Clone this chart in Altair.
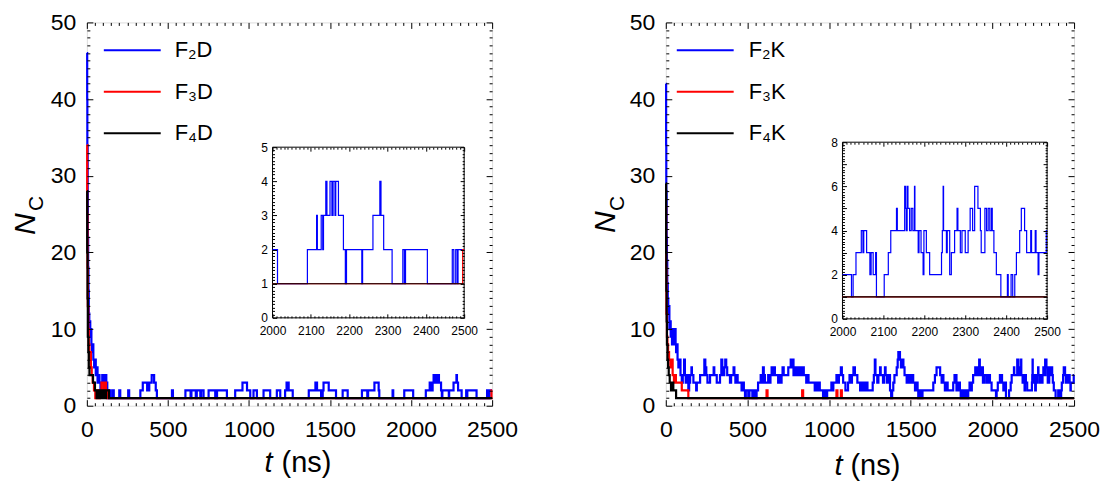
import altair as alt
import pandas as pd
import numpy as np

FONT = "Liberation Sans"

# ---------------- data: (t in ns, N_C) change points of step series ----------------
F2D = [(0, 46), (2, 40), (3, 34), (5, 28), (6, 22), (8, 18), (10, 15), (12, 12), (15, 10), (18, 11),
       (21, 9), (25, 10), (28, 8), (32, 7), (36, 8), (40, 6), (45, 5), (50, 6), (55, 4), (60, 5),
       (66, 3), (72, 4), (78, 3), (84, 2), (90, 3), (95, 4), (105, 3), (112, 4), (120, 3), (126, 2),
       (132, 1), (140, 2), (146, 1), (160, 2), (166, 1), (200, 2), (206, 1), (255, 2), (261, 1),
       (330, 2), (345, 3), (372, 2), (385, 3), (400, 4), (415, 3), (425, 2), (432, 1), (525, 2),
       (531, 1), (608, 2), (640, 1), (645, 2), (672, 1), (678, 2), (700, 1), (705, 2), (720, 1),
       (751, 2), (792, 1), (803, 2), (864, 1), (915, 2), (960, 3), (988, 2), (1008, 1), (1028, 2),
       (1049, 1), (1090, 2), (1131, 1), (1172, 2), (1193, 1), (1223, 2), (1232, 3), (1245, 2),
       (1270, 1), (1369, 2), (1410, 3), (1420, 2), (1445, 1), (1455, 2), (1460, 3), (1492, 2),
       (1537, 1), (1578, 2), (1609, 1), (1697, 2), (1730, 1), (1735, 2), (1774, 3), (1800, 2),
       (1804, 1), (1886, 2), (1890, 1), (1958, 2), (2013, 1), (2091, 2), (2115, 3), (2117, 2),
       (2127, 3), (2131, 2), (2133, 3), (2139, 4), (2142, 3), (2150, 4), (2155, 3), (2158, 4),
       (2163, 3), (2165, 4), (2172, 3), (2185, 2), (2190, 1), (2193, 2), (2233, 1), (2235, 2),
       (2262, 3), (2280, 4), (2283, 3), (2290, 2), (2312, 1), (2340, 2), (2344, 1), (2347, 2),
       (2404, 1), (2469, 2), (2473, 1), (2478, 2), (2482, 1), (2484, 2), (2500, 2)]
F3D = [(0, 34), (2, 25), (4, 18), (6, 13), (9, 10), (12, 8), (16, 6), (20, 7), (25, 5), (30, 4),
       (36, 3), (44, 2), (52, 1), (62, 2), (70, 1), (80, 2), (90, 3), (104, 2), (112, 3), (118, 2),
       (124, 1), (2496, 2), (2500, 2)]
F4D = [(0, 28), (2, 20), (4, 14), (6, 9), (9, 7), (12, 5), (16, 4), (38, 3), (50, 2), (60, 1),
       (66, 2), (76, 1), (85, 2), (95, 1), (100, 2), (110, 1), (118, 2), (136, 1), (2500, 1)]

F2K = [(0, 42), (2, 34), (3, 28), (5, 22), (7, 19), (9, 16), (12, 14), (15, 12), (19, 13), (22, 10),
       (26, 11), (30, 9), (34, 10), (38, 8), (42, 10), (47, 9), (52, 8), (56, 10), (60, 8), (63, 7),
       (68, 8), (72, 6), (77, 5), (84, 6), (90, 4), (98, 3), (104, 4), (112, 6), (117, 4), (122, 3),
       (130, 4), (138, 2), (143, 3), (149, 4), (157, 5), (160, 4), (169, 3), (186, 2), (190, 3),
       (210, 4), (236, 6), (242, 5), (248, 4), (255, 3), (271, 4), (293, 5), (297, 4), (312, 3),
       (332, 4), (340, 6), (346, 5), (352, 4), (358, 5), (364, 6), (370, 5), (376, 4), (393, 3),
       (400, 4), (415, 5), (420, 4), (426, 3), (434, 4), (440, 3), (464, 2), (470, 3), (478, 2),
       (485, 1), (490, 2), (505, 1), (512, 2), (530, 1), (535, 2), (548, 1), (556, 2), (565, 3),
       (581, 4), (590, 3), (595, 5), (600, 4), (607, 3), (627, 4), (635, 3), (641, 4), (648, 5),
       (655, 4), (662, 5), (668, 4), (688, 3), (695, 4), (702, 3), (709, 4), (715, 5), (722, 4),
       (750, 5), (765, 6), (772, 5), (778, 6), (782, 4), (795, 5), (805, 4), (818, 5), (826, 4),
       (835, 5), (845, 4), (860, 3), (868, 4), (874, 3), (912, 2), (918, 3), (925, 2), (935, 3),
       (943, 2), (963, 1), (970, 2), (978, 1), (988, 2), (1014, 3), (1020, 2), (1026, 3), (1045, 4),
       (1052, 3), (1060, 4), (1072, 5), (1078, 4), (1086, 3), (1100, 2), (1116, 3), (1125, 4),
       (1132, 3), (1140, 4), (1149, 5), (1158, 4), (1173, 3), (1190, 2), (1198, 3), (1210, 2),
       (1222, 3), (1235, 2), (1267, 3), (1274, 4), (1280, 6), (1284, 4), (1295, 3), (1302, 4),
       (1312, 5), (1316, 4), (1330, 3), (1336, 4), (1342, 5), (1346, 4), (1353, 3), (1362, 4),
       (1373, 2), (1380, 1), (1386, 2), (1393, 3), (1400, 4), (1414, 5), (1420, 6), (1424, 7),
       (1434, 6), (1440, 5), (1450, 6), (1455, 5), (1462, 4), (1475, 3), (1485, 4), (1495, 3),
       (1505, 4), (1515, 3), (1526, 2), (1536, 3), (1542, 2), (1546, 1), (1556, 2), (1568, 1),
       (1572, 2), (1638, 3), (1648, 4), (1658, 5), (1680, 4), (1689, 3), (1695, 4), (1700, 3),
       (1709, 2), (1718, 3), (1726, 2), (1760, 3), (1768, 4), (1780, 2), (1790, 3), (1801, 2),
       (1806, 1), (1815, 2), (1822, 1), (1835, 2), (1845, 1), (1852, 2), (1860, 3), (1868, 2),
       (1874, 3), (1882, 4), (1895, 5), (1900, 4), (1910, 5), (1919, 6), (1923, 4), (1935, 5),
       (1942, 3), (1950, 4), (1964, 3), (1975, 4), (1985, 3), (1995, 2), (2022, 1), (2026, 2),
       (2033, 3), (2046, 4), (2050, 3), (2052, 4), (2059, 3), (2067, 2), (2070, 3), (2075, 2),
       (2081, 3), (2083, 1), (2102, 2), (2112, 3), (2118, 4), (2132, 5), (2134, 4), (2152, 6),
       (2154, 5), (2156, 4), (2158, 6), (2160, 5), (2164, 4), (2168, 5), (2172, 4), (2176, 6),
       (2177, 4), (2185, 3), (2187, 4), (2192, 3), (2197, 2), (2199, 4), (2205, 3), (2213, 2),
       (2242, 3), (2244, 4), (2246, 6), (2247, 4), (2254, 3), (2256, 4), (2262, 2), (2266, 3),
       (2274, 4), (2280, 5), (2282, 4), (2288, 3), (2292, 4), (2300, 3), (2307, 4), (2312, 5),
       (2318, 4), (2323, 6), (2331, 5), (2337, 4), (2339, 3), (2348, 5), (2352, 4), (2356, 5),
       (2360, 4), (2364, 5), (2366, 4), (2370, 3), (2376, 2), (2387, 1), (2403, 2), (2405, 1),
       (2412, 2), (2416, 1), (2421, 2), (2425, 3), (2433, 4), (2437, 5), (2445, 4), (2450, 3),
       (2460, 4), (2462, 3), (2471, 4), (2473, 3), (2478, 2), (2480, 3), (2498, 4), (2500, 4)]
F3K = [(0, 26), (2, 18), (4, 12), (7, 9), (10, 8), (14, 7), (20, 6), (28, 5), (36, 6), (42, 4),
       (50, 3), (56, 4), (62, 3), (98, 2), (138, 1), (617, 2), (623, 1), (835, 2), (841, 1),
       (1045, 2), (1051, 1), (1072, 2), (1078, 1), (2500, 1)]
F4K = [(0, 29), (2, 20), (3, 15), (5, 11), (7, 8), (10, 6), (14, 5), (18, 4), (24, 3), (32, 2),
       (40, 3), (46, 2), (63, 1), (2500, 1)]

LEFT_NAMES = ["F\u2082D", "F\u2083D", "F\u2084D"]
RIGHT_NAMES = ["F\u2082K", "F\u2083K", "F\u2084K"]
COLORS = ["#0000ff", "#ff0000", "#000000"]

MAIN_X_LABELS = [0, 500, 1000, 1500, 2000, 2500]
MAIN_Y_LABELS = [0, 10, 20, 30, 40, 50]
INSET_X_LABELS = [2000, 2100, 2200, 2300, 2400, 2500]
LEFT_INSET_Y_LABELS = [0, 1, 2, 3, 4, 5]
RIGHT_INSET_Y_LABELS = [0, 2, 4, 6, 8]

MAIN_X_TICKS = list(range(0, 2501, 50))
MAIN_Y_TICKS = list(range(0, 51, 1))
INSET_X_TICKS = list(range(2000, 2501, 10))


def long_df(series, names):
    rows = []
    for k, (pts, name) in enumerate(zip(series, names)):
        for t, v in pts:
            rows.append({"t": t, "v": v, "s": name, "k": k})
    return pd.DataFrame(rows)


def inset_df(series, names, t0=2000):
    rows = []
    for k, (pts, name) in enumerate(zip(series, names)):
        start = [v for t, v in pts if t <= t0][-1]
        rows.append({"t": t0, "v": start, "s": name, "k": k})
        for t, v in pts:
            if t > t0:
                rows.append({"t": t, "v": v, "s": name, "k": k})
    return pd.DataFrame(rows)


def tick_axis(orient, offset, values, cond, major, minor):
    return alt.Axis(orient=orient, offset=offset, values=values, labels=False, domain=False,
                    grid=False, ticks=True, tickColor="black", tickWidth=1,
                    tickSize={"condition": {"test": cond, "value": major}, "value": minor},
                    title=None, zindex=2)


def label_axis(orient, offset, values, size, pad):
    return alt.Axis(orient=orient, offset=offset, values=values, ticks=False, tickSize=0,
                    domain=False, grid=False, labelFlush=False, labelOverlap=False,
                    labelFont=FONT, labelFontSize=size, labelColor="black", labelPadding=pad,
                    format="d", title=None, zindex=2)


def panel(series, names, W, H, ins_x, ins_y, ins_ymax, ins_ylabels, ins_ystep,
          leg_x, leg_tx, leg_y, n_pos, c_pos, t_pos, ns_pos):
    df = long_df(series, names)
    idf = inset_df(series, names)
    cscale = alt.Scale(domain=names, range=COLORS)

    def xs():
        return alt.Scale(domain=[0, 2500], nice=False, zero=False)

    def ys():
        return alt.Scale(domain=[0, 50], nice=False, zero=False)

    def ixs():
        return alt.Scale(domain=[2000, 2500], range=list(ins_x), nice=False, zero=False)

    def iys():
        return alt.Scale(domain=[0, ins_ymax], range=[ins_y[1], ins_y[0]], nice=False, zero=False)

    dummy = pd.DataFrame({"t": [2100], "v": [1]})

    lines = alt.Chart(df).mark_line(interpolate="step-after", strokeWidth=2.2).encode(
        x=alt.X("t:Q", scale=xs(), axis=label_axis("bottom", 0, MAIN_X_LABELS, 23, 13)),
        y=alt.Y("v:Q", scale=ys(), axis=label_axis("left", 0, MAIN_Y_LABELS, 23, 11)),
        color=alt.Color("s:N", scale=cscale, legend=None),
    )
    main_t1 = alt.Chart(dummy).mark_point(opacity=0).encode(
        x=alt.X("t:Q", scale=xs(), axis=tick_axis("top", -H, MAIN_X_TICKS, "datum.value % 500 === 0", 6, 3)),
        y=alt.Y("v:Q", scale=ys(), axis=tick_axis("right", -W, MAIN_Y_TICKS, "datum.value % 10 === 0", 6, 3)),
    )
    main_t2 = alt.Chart(dummy).mark_point(opacity=0).encode(
        x=alt.X("t:Q", scale=xs(), axis=tick_axis("bottom", -H, MAIN_X_TICKS, "datum.value % 500 === 0", 6, 3)),
        y=alt.Y("v:Q", scale=ys(), axis=tick_axis("left", -W, MAIN_Y_TICKS, "datum.value % 10 === 0", 6, 3)),
    )

    rect_df = pd.DataFrame({"a": [2000], "b": [2500], "c": [0], "d": [ins_ymax]})
    inset_box = alt.Chart(rect_df).mark_rect(fill="white", stroke="black", strokeWidth=1).encode(
        x=alt.X("a:Q", scale=ixs(), axis=label_axis("bottom", ins_y[1] - H, INSET_X_LABELS, 12, 8)),
        x2="b:Q",
        y=alt.Y("c:Q", scale=iys(), axis=label_axis("left", -ins_x[0], ins_ylabels, 12, 5)),
        y2="d:Q",
    )
    iy_ticks = [round(v, 3) for v in np.arange(0, ins_ymax + 1e-9, ins_ystep)]
    ycond = "abs(datum.value - round(datum.value)) < 0.001"
    ins_t1 = alt.Chart(dummy).mark_point(opacity=0).encode(
        x=alt.X("t:Q", scale=ixs(), axis=tick_axis("top", -ins_y[1], INSET_X_TICKS, "datum.value % 100 === 0", 4, 2)),
        y=alt.Y("v:Q", scale=iys(), axis=tick_axis("right", ins_x[0] - W, iy_ticks, ycond, 4, 2)),
    )
    ins_t2 = alt.Chart(dummy).mark_point(opacity=0).encode(
        x=alt.X("t:Q", scale=ixs(), axis=tick_axis("bottom", ins_y[0] - H, INSET_X_TICKS, "datum.value % 100 === 0", 4, 2)),
        y=alt.Y("v:Q", scale=iys(), axis=tick_axis("left", -ins_x[1], iy_ticks, ycond, 4, 2)),
    )
    ins_lines = alt.Chart(idf).mark_line(interpolate="step-after", strokeWidth=1.2).encode(
        x=alt.X("t:Q", scale=ixs(), axis=None),
        y=alt.Y("v:Q", scale=iys(), axis=None),
        color=alt.Color("s:N", scale=cscale, legend=None),
    )

    leg_df = pd.DataFrame({"s": names})
    lscale = alt.Scale(type="point", domain=names, range=list(leg_y), padding=0)
    leg_rule = alt.Chart(leg_df).mark_rule(strokeWidth=2).encode(
        x=alt.value(leg_x[0]), x2=alt.value(leg_x[1]),
        y=alt.Y("s:N", scale=lscale, axis=None),
        color=alt.Color("s:N", scale=cscale, legend=None),
    )
    leg_txt = alt.Chart(leg_df).mark_text(align="left", baseline="middle", font=FONT,
                                          fontSize=22, color="black").encode(
        x=alt.value(leg_tx), y=alt.Y("s:N", scale=lscale, axis=None), text="s:N",
    )

    def txt(s, pos, size, italic, angle=0):
        return alt.Chart(dummy).mark_text(text=s, font=FONT, fontSize=size,
                                          fontStyle="italic" if italic else "normal",
                                          angle=angle, align="left", baseline="alphabetic",
                                          color="black").encode(x=alt.value(pos[0]), y=alt.value(pos[1]))

    titles = [txt("N", n_pos, 30, True, 270), txt("C", c_pos, 21, False, 270),
              txt("t", t_pos, 29, True), txt("(ns)", ns_pos, 29, False)]

    return alt.layer(lines, main_t1, main_t2, inset_box, ins_lines, ins_t1, ins_t2,
                     leg_rule, leg_txt, *titles).resolve_scale(
        x="independent", y="independent").properties(width=W, height=H)


left = panel([F2D, F3D, F4D], LEFT_NAMES, 406, 384, (186, 378), (125, 296), 5,
             LEFT_INSET_Y_LABELS, 0.1, (17, 74), 88, (28, 111),
             (-52, 213), (-44, 189), (178, 450), (195, 450))
right = panel([F2K, F3K, F4K], RIGHT_NAMES, 409, 384, (177, 382), (120, 297), 8,
              RIGHT_INSET_Y_LABELS, 0.125, (11, 68), 83, (28, 111),
              (-51, 211), (-42, 189), (169, 453), (185, 453))

chart = alt.hconcat(left, right, spacing=71).resolve_scale(
    x="independent", y="independent", color="independent"
).properties(padding={"left": 2, "top": 2, "right": 0, "bottom": 0}).configure_view(
    stroke="black", strokeWidth=1
).configure(font=FONT)

chart.save("out.html", embed_options={"renderer": "svg", "actions": False})
